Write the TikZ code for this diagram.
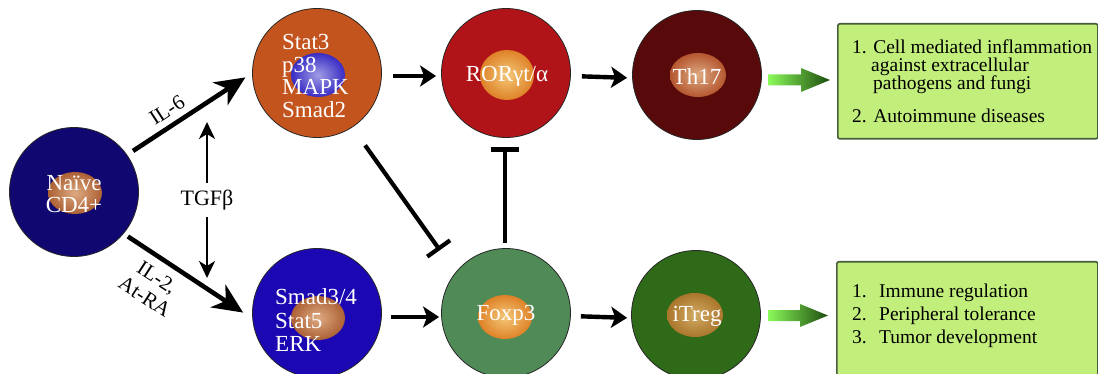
\documentclass[tikz,border=0pt]{standalone}
\usepackage{fontspec}
\setmainfont{Liberation Serif}
\usetikzlibrary{arrows.meta}
\definecolor{naivec}{RGB}{16,8,112}
\definecolor{stat3c}{RGB}{196,84,30}
\definecolor{rorc}{RGB}{176,20,24}
\definecolor{th17c}{RGB}{88,10,10}
\definecolor{smadc}{RGB}{28,8,178}
\definecolor{foxc}{RGB}{80,138,86}
\definecolor{itregc}{RGB}{46,106,24}
\definecolor{boxc}{RGB}{194,238,124}
\definecolor{boxdraw}{RGB}{72,92,62}
\definecolor{garrowL}{RGB}{140,250,90}
\definecolor{garrowR}{RGB}{28,76,14}
\definecolor{nucbrownO}{RGB}{172,96,52}
\definecolor{nucbrownI}{RGB}{222,170,130}
\definecolor{nucorangeO}{RGB}{222,130,40}
\definecolor{nucorangeI}{RGB}{245,200,120}
\definecolor{nucblueO}{RGB}{56,44,196}
\definecolor{nucblueI}{RGB}{160,156,228}
\definecolor{nucgoldO}{RGB}{170,118,44}
\definecolor{nucgoldI}{RGB}{210,170,100}
\begin{document}
\begin{tikzpicture}[x=1pt,y=-1pt,
  cell/.style={circle, draw=black!85, line width=0.8pt, minimum size=129pt, inner sep=0pt},
  ctext/.style={text=white, font=\fontsize{23}{22.6}\selectfont, inner sep=0pt},
  nuc/.style 2 args={inner color=#1, outer color=#2},
  bigarr/.style={line width=4.6pt, -{Stealth[length=30pt,width=27pt,inset=9pt]}},
  arr/.style={line width=4.4pt, -{Stealth[length=16pt,width=21pt,inset=4pt]}},
  thinarr/.style={line width=2.2pt, -{Stealth[length=17pt,width=16pt,inset=5pt]}},
  inh/.style={line width=4.2pt, -{Bar[width=28pt]}},
  lbl/.style={font=\fontsize{21}{23}\selectfont, inner sep=0pt},
  boxst/.style={draw=boxdraw, fill=boxc, line width=1.6pt, rounded corners=2pt, inner sep=0pt, anchor=north west},
  btext/.style={font=\fontsize{19.5}{18}\selectfont, inner sep=0pt, align=left, anchor=north west}
]
\useasboundingbox (0,0) rectangle (1098,374);
\clip (0,0) rectangle (1098,374);

% cells
\node[cell, fill=naivec] (naive) at (74,192) {};
\shade[nuc={nucbrownI}{nucbrownO}] (75,193) ellipse [x radius=27pt, y radius=21pt];
\node[ctext, align=center, font=\fontsize{23}{22}\selectfont] (naivet) at (74,194) {Naïve\\CD4+};

\node[cell, fill=stat3c] (stat3) at (317,73) {};
\shade[nuc={nucblueI}{nucblueO}] (318,75) ellipse [x radius=27pt, y radius=22pt];
\node[ctext, align=left, anchor=west] (stat3t) at (282,76) {Stat3\\p38\\MAPK\\Smad2};

\node[cell, fill=rorc] (ror) at (506,73) {};
\shade[nuc={nucorangeI}{nucorangeO}] (507,75) ellipse [x radius=27pt, y radius=25pt];
\node[ctext] (rort) at (507,76) {RORγt/α};

\node[cell, fill=th17c] (th17) at (697,75) {};
\shade[nuc={nucbrownI}{nucbrownO!90!red}] (698,75) ellipse [x radius=28pt, y radius=22pt];
\node[ctext] (th17t) at (697,77) {Th17};

\node[cell, fill=smadc] (smad) at (317,313) {};
\shade[nuc={nucbrownI}{nucbrownO}] (318,318) ellipse [x radius=27pt, y radius=22pt];
\node[ctext, align=left, anchor=west, font=\fontsize{23}{23.5}\selectfont] (smadt) at (275,320.5) {Smad3/4\\Stat5\\ERK};

\node[cell, fill=foxc] (fox) at (506,313) {};
\shade[nuc={nucorangeI}{nucorangeO}] (505,317) ellipse [x radius=27pt, y radius=22pt];
\node[ctext] (foxt) at (506,315) {Foxp3};

\node[cell, fill=itregc] (itreg) at (696,315) {};
\shade[nuc={nucgoldI}{nucgoldO}] (695,315) ellipse [x radius=28pt, y radius=22pt];
\node[ctext] (itregt) at (697,316) {iTreg};

% TGF beta
\node[font=\fontsize{22}{24}\selectfont, inner sep=0pt, minimum height=34pt] (tgf) at (207,200) {TGFβ};
\coordinate (tgfup) at (207,122);
\coordinate (tgfdn) at (207,278);
\draw[thinarr] (tgf.north) -- (tgfup);
\draw[thinarr] (tgf.south) -- (tgfdn);

% IL arrows
\draw[bigarr, shorten <=7pt, shorten >=8pt] (naive.35) -- (stat3.west);
\draw[bigarr, shorten <=5pt, shorten >=11pt] (naive.-40) -- (smad.185);
\node[lbl, rotate=33] (il6) at (167,110) {IL-6};
\node[lbl, rotate=-33, align=center] (il2) at (151,287) {IL-2,\\At-RA};

% horizontal arrows
\draw[arr, shorten <=11pt, shorten >=5pt] ([yshift=-3pt]stat3.east) -- ([yshift=-3pt]ror.west);
\draw[arr, shorten <=11pt, shorten >=5pt] ([yshift=-3pt]ror.east) -- ([yshift=-3pt]th17.west);
\draw[arr, shorten <=9pt, shorten >=2pt] ([yshift=-4pt]smad.east) -- ([yshift=-4pt]fox.west);
\draw[arr, shorten <=10pt, shorten >=4pt] ([yshift=-3pt]fox.east) -- ([yshift=-3pt]itreg.west);

% inhibitions
\draw[inh, shorten <=22pt, shorten >=27pt] (stat3.-57) -- (fox.141);
\draw[inh, shorten <=5.5pt, shorten >=9.5pt] ([xshift=-1pt]fox.north) -- ([xshift=-1pt]ror.south);

% gradient arrows
\shade[left color=garrowL, right color=garrowR] (768,74.5) -- (801,74.5) -- (801,68) -- (830,80) -- (801,92) -- (801,85.5) -- (768,85.5) -- cycle;
\shade[left color=garrowL, right color=garrowR] (768,310) -- (800,310) -- (800,304) -- (828,315.5) -- (800,327) -- (800,321) -- (768,321) -- cycle;

% boxes
\node[boxst, minimum width=260pt, minimum height=115pt] (box1) at (837,23) {};
\node[btext] (box1t) at (852,39.6) {1. Cell mediated inflammation\\\hspace*{19pt}against extracellular\\\hspace*{21pt}pathogens and fungi\\[15pt]2. Autoimmune diseases};
\node[boxst, minimum width=261pt, minimum height=122pt] (box2) at (836,261) {};
\node[btext, font=\fontsize{19.5}{23}\selectfont] (box2t) at (852,283.7) {\makebox[27pt][l]{1.}Immune regulation\\\makebox[27pt][l]{2.}Peripheral tolerance\\\makebox[27pt][l]{3.}Tumor development};
\end{tikzpicture}
\end{document}
